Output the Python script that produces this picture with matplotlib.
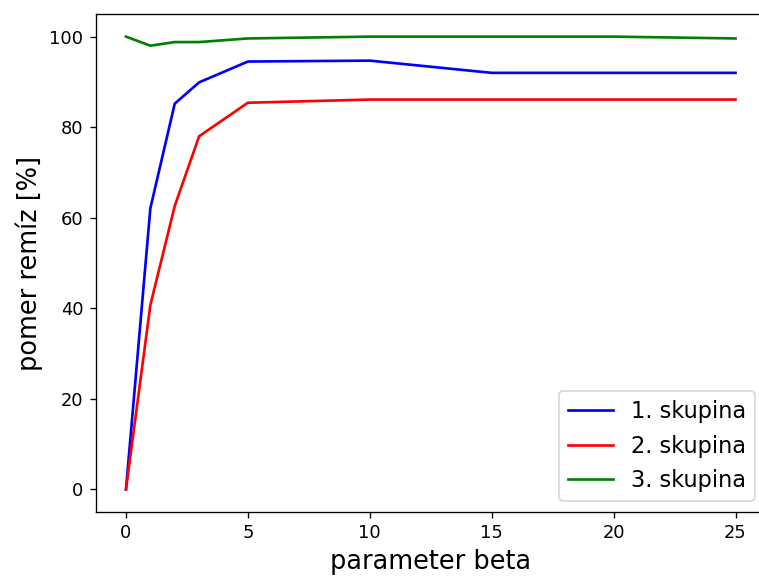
import matplotlib
matplotlib.use("Agg")
import matplotlib.pyplot as plt

beta = [0, 1, 2, 3, 5, 10, 15, 20, 25]
skupina1 = [0, 62.1, 85.2, 89.9, 94.5, 94.7, 92.0, 92.0, 92.0]
skupina2 = [0, 40.7, 62.6, 78.0, 85.4, 86.1, 86.1, 86.1, 86.1]
skupina3 = [100, 98.0, 98.8, 98.8, 99.6, 100, 100, 100, 99.6]
labels = ["1. skupina", "2. skupina", "3. skupina"]

W, H = 759, 576
fig = plt.figure(figsize=(W / 120, H / 120), dpi=120)
# right spine falls just outside the picture, as in the original crop
ax = fig.add_axes([95.5 / W, 1 - 512 / H, (766 - 95.5) / W, (512 - 14) / H])

ax.plot(beta, skupina1, color="blue", label=labels[0], lw=1.6)
ax.plot(beta, skupina2, color="red", label=labels[1], lw=1.6)
ax.plot(beta, skupina3, color="green", label=labels[2], lw=1.6)

ax.tick_params(labelsize=10.7, length=3.8)
ax.set_xlabel("parameter beta", fontsize=15.4)
ax.set_ylabel("pomer remíz [%]", fontsize=15.4)
ax.legend(loc="lower right", fontsize=13.5)

fig.savefig("out.png", dpi=120)
